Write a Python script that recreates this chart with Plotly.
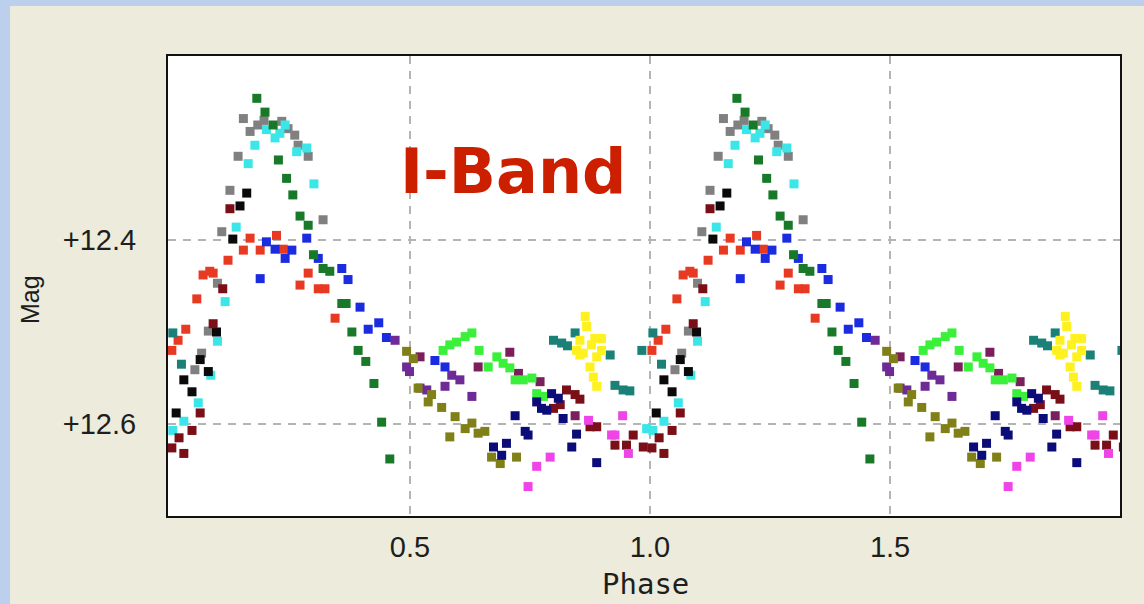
import plotly.graph_objects as go

# Phase-folded I-band light curve; every observing run has its own colour.
# Each run is plotted over two cycles (phase and phase + 1).

gray_phase = [0.153, 0.167, 0.183, 0.196, 0.233, 0.246, 0.260, 0.267, 0.288, 0.142,
              0.125, 0.108, 0.319, 0.099, 0.080, 0.066, 0.052]
gray_mag = [12.268, 12.282, 12.275, 12.270, 12.271, 12.279, 12.286, 12.297, 12.309, 12.309,
            12.346, 12.391, 12.378, 12.447, 12.499, 12.523, 12.541]

cyan_phase = [0.177, 0.163, 0.201, 0.219, 0.229, 0.240, 0.264, 0.285, 0.300, 0.138,
              0.115, 0.099, 0.085, 0.059, 0.029, 0.006, 0.993]
cyan_mag = [12.297, 12.317, 12.280, 12.289, 12.284, 12.275, 12.304, 12.300, 12.339, 12.386,
            12.467, 12.510, 12.547, 12.577, 12.597, 12.607, 12.605]

black_phase = [0.160, 0.146, 0.131, 0.097, 0.063, 0.080, 0.029, 0.046, 0.013]
black_mag = [12.349, 12.363, 12.399, 12.500, 12.530, 12.543, 12.552, 12.565, 12.588]

maroon_phase = [0.125, 0.110, 0.090, 0.063, 0.046, 0.019, 0.004, 0.029, 0.826, 0.844,
                0.854, 0.799, 0.813, 0.875, 0.889, 0.927, 0.951, 0.965, 0.986]
maroon_mag = [12.366, 12.453, 12.491, 12.588, 12.607, 12.615, 12.626, 12.632, 12.563, 12.568,
              12.573, 12.583, 12.579, 12.603, 12.603, 12.623, 12.623, 12.612, 12.625]

red_phase = [0.167, 0.153, 0.188, 0.222, 0.121, 0.083, 0.069, 0.090, 0.056, 0.033,
             0.017, 0.004, 0.288, 0.271, 0.309, 0.323, 0.344, 0.236]
red_mag = [12.398, 12.411, 12.411, 12.395, 12.422, 12.434, 12.438, 12.436, 12.464, 12.497,
           12.509, 12.520, 12.436, 12.449, 12.453, 12.453, 12.485, 12.410]

blue_phase = [0.201, 0.219, 0.240, 0.254, 0.285, 0.309, 0.358, 0.371, 0.188, 0.396,
              0.413, 0.435, 0.451, 0.552, 0.573]
blue_mag = [12.402, 12.410, 12.420, 12.411, 12.398, 12.420, 12.431, 12.443, 12.442, 12.473,
            12.497, 12.490, 12.506, 12.531, 12.538]

green_phase = [0.181, 0.198, 0.215, 0.226, 0.243, 0.256, 0.271, 0.288, 0.299, 0.319,
               0.333, 0.358, 0.367, 0.379, 0.392, 0.408, 0.425, 0.441, 0.458]
green_mag = [12.246, 12.261, 12.275, 12.313, 12.333, 12.351, 12.374, 12.384, 12.416, 12.431,
             12.434, 12.469, 12.469, 12.500, 12.520, 12.532, 12.556, 12.598, 12.638]

purple_phase = [0.469, 0.493, 0.499, 0.587, 0.604, 0.573, 0.629, 0.535, 0.521]
purple_mag = [12.509, 12.538, 12.543, 12.547, 12.552, 12.559, 12.570, 12.563, 12.561]

plum_phase = [0.521, 0.642, 0.708, 0.726, 0.771, 0.844]
plum_mag = [12.527, 12.538, 12.522, 12.545, 12.554, 12.591]

olive_phase = [0.493, 0.507, 0.517, 0.545, 0.538, 0.566, 0.594, 0.615, 0.629, 0.642,
               0.656, 0.583, 0.670, 0.688, 0.722]
olive_mag = [12.521, 12.529, 12.561, 12.568, 12.576, 12.582, 12.592, 12.605, 12.599, 12.610,
             12.608, 12.614, 12.636, 12.643, 12.636]

lime_phase = [0.569, 0.583, 0.597, 0.615, 0.629, 0.644, 0.663, 0.681, 0.694, 0.708,
              0.719, 0.736, 0.754, 0.764, 0.778]
lime_mag = [12.520, 12.514, 12.511, 12.505, 12.501, 12.520, 12.538, 12.527, 12.534, 12.539,
            12.552, 12.552, 12.550, 12.567, 12.570]

navy_phase = [0.764, 0.774, 0.795, 0.809, 0.785, 0.719, 0.740, 0.746, 0.701, 0.674,
              0.691, 0.847, 0.837, 0.889, 0.819]
navy_mag = [12.576, 12.583, 12.567, 12.572, 12.585, 12.591, 12.608, 12.612, 12.621, 12.625,
            12.634, 12.611, 12.625, 12.642, 12.594]

magenta_phase = [0.872, 0.920, 0.927, 0.943, 0.955, 0.792, 0.764, 0.746]
magenta_mag = [12.596, 12.612, 12.612, 12.591, 12.632, 12.636, 12.646, 12.668]

teal_phase = [0.799, 0.816, 0.828, 0.844, 0.917, 0.927, 0.944, 0.958, 0.983, 0.006, 0.024]
teal_mag = [12.509, 12.512, 12.515, 12.501, 12.525, 12.558, 12.563, 12.564, 12.520, 12.501, 12.535]

yellow_phase = [0.865, 0.868, 0.854, 0.885, 0.899, 0.861, 0.889, 0.875, 0.882, 0.889,
                0.854, 0.899, 0.847, 0.878]
yellow_mag = [12.483, 12.494, 12.509, 12.507, 12.507, 12.523, 12.527, 12.538, 12.549, 12.559,
              12.525, 12.520, 12.520, 12.514]

x_tick_vals = [0.5, 1.0, 1.5]
x_tick_text = ["0.5", "1.0", "1.5"]
y_tick_vals = [12.4, 12.6]
y_tick_text = ["+12.4", "+12.6"]

series = [
    ("#808080", gray_phase, gray_mag),
    ("#3ae6e8", cyan_phase, cyan_mag),
    ("#0a0a0a", black_phase, black_mag),
    ("#7a0f18", maroon_phase, maroon_mag),
    ("#e83a22", red_phase, red_mag),
    ("#1a2be0", blue_phase, blue_mag),
    ("#187a28", green_phase, green_mag),
    ("#6e2a96", purple_phase, purple_mag),
    ("#7a1f5c", plum_phase, plum_mag),
    ("#808018", olive_phase, olive_mag),
    ("#3af03a", lime_phase, lime_mag),
    ("#0c0c78", navy_phase, navy_mag),
    ("#ee44e8", magenta_phase, magenta_mag),
    ("#1a8078", teal_phase, teal_mag),
    ("#fff020", yellow_phase, yellow_mag),
]

fig = go.Figure()
for color, phase, mag in series:
    xs = [p + cycle for cycle in (0, 1) for p in phase]
    ys = list(mag) * 2
    fig.add_trace(go.Scatter(
        x=xs, y=ys, mode="markers",
        marker=dict(symbol="square", size=9, color=color, line=dict(width=0)),
        showlegend=False, hoverinfo="skip",
    ))

tick_font = dict(family="Liberation Sans, Arial, sans-serif", size=29, color="#1e1e1e")
grid_style = dict(showgrid=True, gridcolor="#b4b4b4", gridwidth=1.5, griddash="8px,7px",
                  zeroline=False, showline=True, linecolor="#111111", linewidth=2,
                  mirror=True, ticks="", tickfont=tick_font)

fig.update_xaxes(range=[-0.004, 1.979], tickvals=x_tick_vals, ticktext=x_tick_text,
                 ticklabelstandoff=4, **grid_style)
fig.update_yaxes(range=[12.7, 12.2], tickvals=y_tick_vals, ticktext=y_tick_text,
                 ticklabelstandoff=24, **grid_style)

# pale blue window frame along the top and left edges
frame = "#bccfec"
fig.add_shape(type="rect", xref="paper", yref="paper", x0=-0.3, x1=1.2,
              y0=(516 - 6) / 460, y1=1.3, fillcolor=frame, line_width=0, layer="below")
fig.add_shape(type="rect", xref="paper", yref="paper", x0=-0.3, x1=(10 - 168) / 952,
              y0=-0.4, y1=1.3, fillcolor=frame, line_width=0, layer="below")

fig.add_annotation(text="<b>I-Band</b>", xref="paper", yref="paper",
                   x=(513 - 168) / 952, y=(516 - 171) / 460, showarrow=False,
                   xanchor="center", yanchor="middle",
                   font=dict(family="DejaVu Sans, Verdana, sans-serif", size=62, color="#cc1f00"))
fig.add_annotation(text="Phase", xref="paper", yref="paper",
                   x=(645 - 168) / 952, y=(516 - 584) / 460, showarrow=False,
                   xanchor="center", yanchor="middle",
                   font=dict(family="DejaVu Sans Mono, Liberation Mono, monospace", size=29, color="#1e1e1e"))
fig.add_annotation(text="Mag", xref="paper", yref="paper", textangle=-90,
                   x=(30 - 168) / 952, y=(516 - 300) / 460, showarrow=False,
                   xanchor="center", yanchor="middle",
                   font=dict(family="Liberation Sans, Arial, sans-serif", size=25, color="#1e1e1e"))

fig.update_layout(
    width=1144, height=604,
    margin=dict(l=168, r=24, t=56, b=88),
    paper_bgcolor="#ecebdc", plot_bgcolor="#ffffff",
    hovermode=False,
)

fig.write_html("out.html")
